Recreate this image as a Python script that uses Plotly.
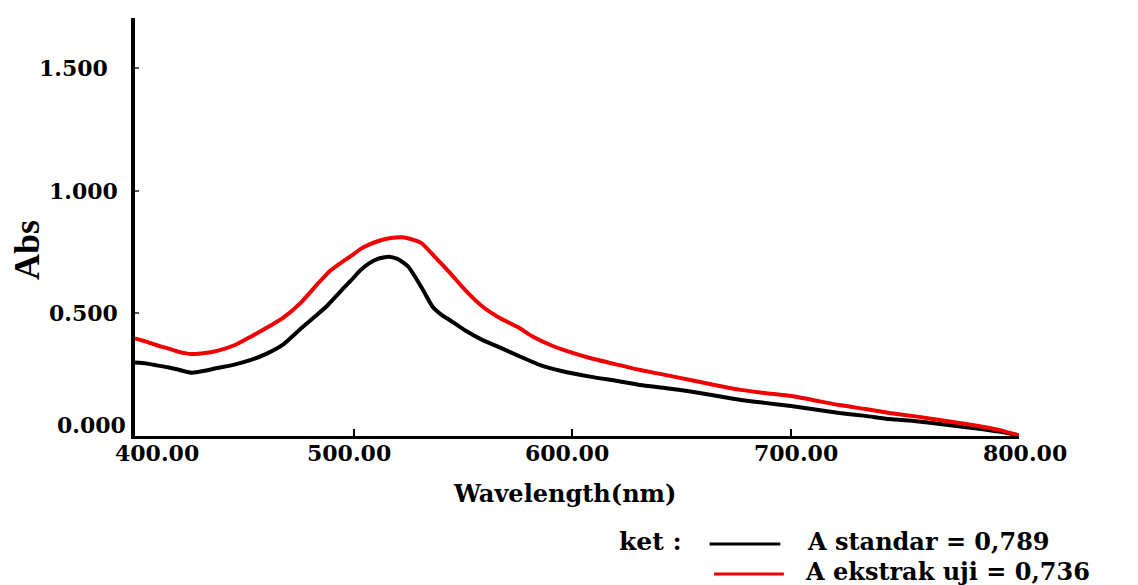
import plotly.graph_objects as go

# ---- data ----
wl_standar = [400, 405, 410, 415, 420, 426, 432, 438, 445, 453, 460, 468, 476, 482,
              488, 494, 499, 503, 507, 511, 516, 520, 523, 525, 528, 532, 536, 540,
              544, 551, 559, 567, 575, 585, 595, 608, 620, 631, 643, 654, 665, 677,
              688, 700, 711, 722, 734, 745, 757, 768, 783, 795, 804]
abs_standar = [0.300, 0.296, 0.288, 0.280, 0.270, 0.258, 0.266, 0.278, 0.290, 0.310,
               0.335, 0.375, 0.439, 0.485, 0.532, 0.590, 0.636, 0.675, 0.704, 0.722,
               0.731, 0.722, 0.705, 0.690, 0.650, 0.590, 0.528, 0.495, 0.472, 0.430,
               0.391, 0.360, 0.328, 0.290, 0.265, 0.242, 0.225, 0.208, 0.195, 0.181,
               0.165, 0.147, 0.135, 0.122, 0.108, 0.094, 0.082, 0.069, 0.060, 0.049,
               0.033, 0.018, 0.003]

wl_ekstrak = [400, 405, 410, 415, 420, 426, 432, 438, 446, 453, 460, 468, 476, 484,
              489, 494, 499, 503, 507, 512, 517, 522, 526, 531, 537, 544, 551, 559,
              567, 575, 582, 590, 598, 608, 620, 631, 643, 654, 665, 677, 688, 700,
              711, 722, 734, 745, 757, 768, 783, 795, 804]
abs_ekstrak = [0.398, 0.385, 0.370, 0.357, 0.343, 0.334, 0.338, 0.348, 0.372, 0.405,
               0.440, 0.484, 0.545, 0.625, 0.672, 0.705, 0.735, 0.762, 0.780, 0.797,
               0.807, 0.810, 0.803, 0.786, 0.731, 0.665, 0.595, 0.527, 0.480, 0.444,
               0.405, 0.371, 0.345, 0.318, 0.292, 0.269, 0.248, 0.228, 0.208, 0.188,
               0.175, 0.163, 0.145, 0.126, 0.110, 0.094, 0.080, 0.065, 0.045, 0.025,
               0.003]

y_tick_vals = [0.0, 0.5, 1.0, 1.5]
y_tick_text = ["0.000", "0.500", "1.000", "1.500"]
x_tick_vals = [400, 500, 600, 700, 800]
x_tick_text = ["400.00", "500.00", "600.00", "700.00", "800.00"]
legend_names = ["A standar = 0,789", "A ekstrak uji = 0,736"]
legend_prefix = "ket :"
x_title = "Wavelength(nm)"
y_title = "Abs"

# ---- styling / layout nudges (not data) ----
BLACK = "#000000"
RED = "#f00000"
FONT = "DejaVu Serif"
y_lab_xshift = [-7, -15, -15, -25]
y_lab_yshift = [11, 0, 0, 0]
x_lab_xshift = [22, -5, -5, 5, 15]

fig = go.Figure()
fig.add_trace(go.Scatter(x=wl_standar, y=abs_standar, mode="lines",
                         line=dict(color=BLACK, width=4, shape="spline", smoothing=0.5),
                         name=legend_names[0], showlegend=False))
fig.add_trace(go.Scatter(x=wl_ekstrak, y=abs_ekstrak, mode="lines",
                         line=dict(color=RED, width=4, shape="spline", smoothing=0.5),
                         name=legend_names[1], showlegend=False))

annotations = []
for v, t, xs, ys in zip(y_tick_vals, y_tick_text, y_lab_xshift, y_lab_yshift):
    annotations.append(dict(x=0, xref="paper", y=v, yref="y", text=f"<b>{t}</b>",
                            showarrow=False, xanchor="right", yanchor="middle",
                            xshift=xs, yshift=ys,
                            font=dict(family=FONT, size=22, color=BLACK)))
for v, t, xs in zip(x_tick_vals, x_tick_text, x_lab_xshift):
    annotations.append(dict(x=v, xref="x", y=0, yref="paper", text=f"<b>{t}</b>",
                            showarrow=False, xanchor="center", yanchor="middle",
                            xshift=xs, yshift=-17,
                            font=dict(family=FONT, size=22, color=BLACK)))
annotations.append(dict(x=0.4853, xref="paper", y=-0.1364, yref="paper",
                        text=f"<b>{x_title}</b>", showarrow=False,
                        xanchor="center", yanchor="middle",
                        font=dict(family=FONT, size=24, color=BLACK)))
annotations.append(dict(x=0, xref="paper", y=0.445, yref="paper", xshift=-108,
                        text=f"<b>{y_title}</b>", showarrow=False, textangle=-90,
                        xanchor="center", yanchor="middle",
                        font=dict(family="Liberation Serif", size=36, color=BLACK)))
annotations.append(dict(x=0.5826, xref="paper", y=-0.2512, yref="paper",
                        text=f"<b>{legend_prefix}</b>", showarrow=False,
                        xanchor="center", yanchor="middle", borderpad=0,
                        font=dict(family=FONT, size=25, color=BLACK)))
annotations.append(dict(x=0.759, xref="paper", y=-0.2512, yref="paper",
                        text=f"<b>{legend_names[0]}</b>", showarrow=False,
                        xanchor="left", yanchor="middle", borderpad=0,
                        font=dict(family=FONT, size=24, color=BLACK)))
annotations.append(dict(x=0.757, xref="paper", y=-0.3230, yref="paper",
                        text=f"<b>{legend_names[1]}</b>", showarrow=False,
                        xanchor="left", yanchor="middle", borderpad=0,
                        font=dict(family=FONT, size=24, color=BLACK)))

shapes = [
    dict(type="line", xref="paper", yref="paper", x0=0.650, x1=0.730,
         y0=-0.2584, y1=-0.2584, line=dict(color=BLACK, width=3)),
    dict(type="line", xref="paper", yref="paper", x0=0.655, x1=0.734,
         y0=-0.3301, y1=-0.3301, line=dict(color=RED, width=3)),
]

# page body adds an 8px offset; size and margins compensate for it
fig.update_layout(
    width=1130, height=577,
    margin=dict(l=127, r=119, t=10, b=149, pad=0),
    paper_bgcolor="white", plot_bgcolor="white",
    showlegend=False,
    annotations=annotations,
    shapes=shapes,
    xaxis=dict(range=[400, 804.2], showgrid=False, zeroline=False,
               showline=True, linecolor=BLACK, linewidth=3,
               tickmode="array", tickvals=x_tick_vals[1:4], ticks="inside",
               ticklen=7, tickwidth=1.5, tickcolor=BLACK, showticklabels=False),
    yaxis=dict(range=[0, 1.704], showgrid=False, zeroline=False,
               showline=True, linecolor=BLACK, linewidth=4,
               tickmode="array", tickvals=y_tick_vals[1:], ticks="inside",
               ticklen=4, tickwidth=1.5, tickcolor="#555555", showticklabels=False),
)

fig.write_html("out.html")
